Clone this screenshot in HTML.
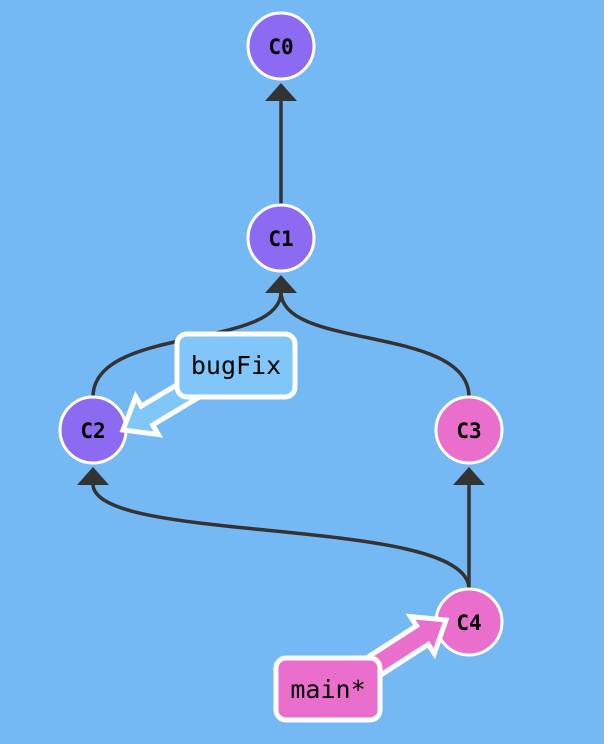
<!DOCTYPE html>
<html><head><style>html,body{margin:0;padding:0;background:#74b9f4;}svg{display:block}</style></head>
<body>
<svg width="604" height="744" viewBox="0 0 604 744" xmlns="http://www.w3.org/2000/svg">
<rect width="604" height="744" fill="#74b9f4"/>
<g stroke="#333" stroke-width="3.5" fill="none">
<line x1="281" y1="205" x2="281" y2="98"/>
<path d="M93,397 C93,325 281,350 281,292"/>
<path d="M469,397 C469,325 281,350 281,292"/>
<line x1="469" y1="589" x2="469" y2="485"/>
<path d="M469,589 C469,515 93,545 93,484"/>
</g>
<g fill="#333">
<polygon points="281,83 265,101 297,101"/>
<polygon points="281,275 265,293 297,293"/>
<polygon points="469,467 453,485 485,485"/>
<polygon points="93,467 77,485 109,485"/>
</g>
<g stroke="#fff" stroke-width="3">
<circle cx="281" cy="46" r="33" fill="#8c6af2"/>
<circle cx="281" cy="238" r="33" fill="#8c6af2"/>
<circle cx="93" cy="430" r="33" fill="#8c6af2"/>
<circle cx="469" cy="430" r="33" fill="#ea6fcc"/>
<circle cx="469" cy="622" r="33" fill="#ea6fcc"/>
</g>
<g font-family="'DejaVu Sans Mono',monospace" font-weight="bold" font-size="21" text-anchor="middle" fill="#000">
<text x="281" y="54">C0</text>
<text x="281" y="246">C1</text>
<text x="93" y="438">C2</text>
<text x="469" y="438">C3</text>
<text x="469" y="630">C4</text>
</g>
<polygon points="197.7,398 152.7,425 158.3,434.5 123,430 135.7,396.7 141.3,406.2 186.3,379.2" fill="#80c6f8" stroke="#fff" stroke-width="5"/>
<rect x="177" y="334" width="118" height="63" rx="10" fill="#80c6f8" stroke="#fff" stroke-width="5"/>
<text x="236" y="374" font-family="'DejaVu Sans Mono',monospace" font-size="25" text-anchor="middle" fill="#000">bugFix</text>
<polygon points="367.9,683.3 428.3,644.4 434.3,653.6 446,620 410.5,616.6 416.5,625.8 356.1,664.7" fill="#ea6fcc" stroke="#fff" stroke-width="5"/>
<rect x="276" y="658" width="104" height="62" rx="10" fill="#ea6fcc" stroke="#fff" stroke-width="5"/>
<text x="328" y="698" font-family="'DejaVu Sans Mono',monospace" font-size="25" text-anchor="middle" fill="#000">main*</text>
</svg>
</body></html>
